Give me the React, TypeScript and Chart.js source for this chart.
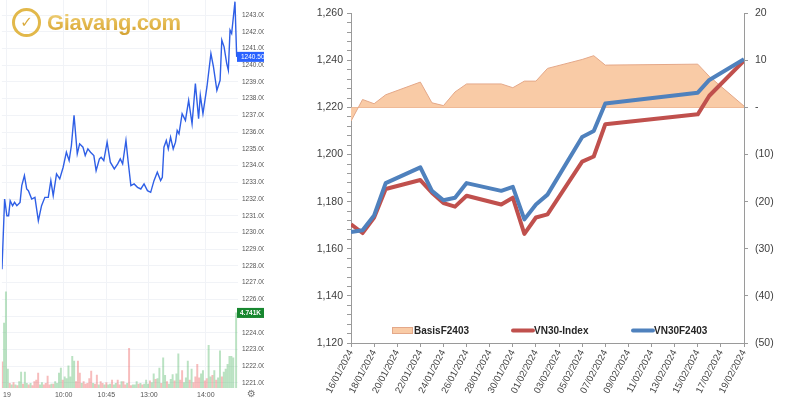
import React, { useEffect, useRef } from "react";
import { Chart, registerables } from "chart.js";

Chart.register(...registerables);

const FONT = "'Liberation Sans', Arial, sans-serif";

// ---------------- Right chart data (daily) ----------------
const tradeDates = [
  "16/01/2024", "17/01/2024", "18/01/2024", "19/01/2024", "22/01/2024",
  "23/01/2024", "24/01/2024", "25/01/2024", "26/01/2024", "29/01/2024",
  "30/01/2024", "31/01/2024", "01/02/2024", "02/02/2024", "05/02/2024",
  "06/02/2024", "07/02/2024", "15/02/2024", "16/02/2024", "19/02/2024",
];
const vn30Index = [
  1170.4, 1166.7, 1173.3, 1185.4, 1189.2, 1183.8, 1179.4, 1177.9, 1182.5, 1178.8,
  1181.7, 1166.3, 1173.3, 1174.6, 1197.0, 1199.2, 1212.9, 1217.1, 1225.0, 1239.9,
];
const vn30F2403 = [
  1167.1, 1167.9, 1174.2, 1187.9, 1194.6, 1184.6, 1180.6, 1181.7, 1187.9, 1184.6,
  1186.3, 1172.5, 1178.8, 1183.0, 1207.5, 1210.0, 1221.7, 1226.3, 1231.7, 1240.5,
];
const basisF2403 = [
  -2.9, 1.7, 0.8, 2.7, 5.4, 1.0, 0.4, 3.3, 5.0, 5.0,
  4.2, 5.6, 5.6, 8.3, 10.2, 11.0, 9.0, 9.2, 6.6, 0.3,
];
const seriesLabels = ["BasisF2403", "VN30-Index", "VN30F2403"];
const axisStartDate = "16/01/2024";
const axisEndDate = "19/02/2024";

// ---------------- Left chart data (intraday) ----------------
// minutes of trading time since 09:00 (lunch break removed)
const priceMinutes = [
  -5.2, -2.4, 0, 1.8, 3.5, 6, 8.1, 10.5, 13.9, 15.7, 18.5, 20.9, 22.7, 26.2, 29.6,
  33.2, 36.6, 40.1, 43.7, 46.4, 48.9, 52.4, 55.8, 59.4, 62.8, 65.7, 68.1, 70.9, 74.3,
  76.8, 80.3, 82.7, 85.5, 88.3, 91.8, 94.2, 97.7, 99.5, 102.3, 105.8, 109.2, 113.4,
  117, 119.7, 122.2, 125.7, 128.1, 130.9, 134.3, 137.9, 141.4, 144.8, 148.4, 151.8,
  155.3, 158.8, 162.3, 164.1, 165.8, 168.3, 170.4, 172.8, 175.6, 178, 179.8, 181.7,
  185, 188.5, 191.9, 195.5, 199, 202.4, 204.2, 207, 211.2, 215.4, 218.1, 221.7, 225.1,
  226.9, 229.3, 232.1, 233.8, 235.6, 237.3, 240.8, 242.6,
];
const priceValues = [
  1227.8, 1232.0, 1231.0, 1231.0, 1231.9, 1231.6, 1231.8, 1231.6, 1231.8, 1232.8,
  1233.4, 1232.6, 1232.5, 1232.0, 1232.1, 1230.7, 1231.6, 1232.1, 1232.1, 1233.1,
  1232.2, 1233.5, 1233.2, 1233.9, 1234.8, 1234.3, 1235.2, 1237.0, 1234.7, 1235.3,
  1235.1, 1234.6, 1235.0, 1234.8, 1234.6, 1233.7, 1234.4, 1234.5, 1234.3, 1235.4,
  1234.2, 1233.8, 1234.1, 1234.4, 1234.1, 1235.5, 1234.2, 1232.8, 1232.9, 1232.7,
  1232.6, 1232.9, 1232.5, 1232.4, 1233.1, 1233.6, 1233.1, 1233.3, 1235.1, 1235.5,
  1235.0, 1235.7, 1235.0, 1235.4, 1236.1, 1235.9, 1237.1, 1236.7, 1237.9, 1236.5,
  1238.9, 1236.8, 1238.2, 1237.1, 1238.7, 1240.7, 1239.9, 1238.5, 1239.1, 1241.5,
  1241.1, 1240.1, 1239.7, 1242.1, 1241.9, 1243.8, 1240.5,
];
const volMinutes = [
  -5, -3, -1, 1, 3, 5, 7, 9, 11, 13,
  15, 17, 19, 21, 23, 25, 27, 29, 31, 33,
  35, 37, 39, 41, 43, 45, 47, 49, 51, 53,
  55, 57, 59, 61, 63, 65, 67, 69, 71, 73,
  75, 77, 79, 81, 83, 85, 87, 89, 91, 93,
  95, 97, 99, 101, 103, 105, 107, 109, 111, 113,
  115, 117, 119, 121, 123, 125, 127, 129, 131, 133,
  135, 137, 139, 141, 143, 145, 147, 149, 151, 153,
  155, 157, 159, 161, 163, 165, 167, 169, 171, 173,
  175, 177, 179, 181, 183, 185, 187, 189, 191, 193,
  195, 197, 199, 201, 203, 205, 207, 209, 211, 213,
  215, 217, 219, 221, 223, 225, 227, 229, 231, 233,
  235, 237, 239, 242,
];
const volValues = [
  1650, 4100, 6070, 1200, 300, 200, 350, 200, 150, 400,
  1000, 250, 1000, 300, 200, 300, 150, 400, 500, 950,
  200, 350, 200, 300, 750, 200, 250, 250, 400, 300,
  950, 1260, 500, 700, 600, 1400, 700, 2000, 1700, 400,
  1700, 950, 300, 400, 250, 300, 600, 1070, 300, 250,
  820, 200, 400, 300, 200, 350, 200, 250, 500, 200,
  300, 500, 200, 400, 400, 200, 300, 2500, 150, 200,
  200, 400, 250, 300, 200, 250, 500, 250, 450, 350,
  900, 550, 600, 1250, 300, 1900, 800, 400, 250, 550,
  850, 450, 900, 2150, 500, 1100, 350, 650, 1700, 500,
  1200, 350, 700, 1500, 650, 900, 1100, 450, 600, 2700,
  700, 800, 1100, 500, 650, 2350, 700, 1000, 1200, 1500,
  2000, 2000, 1900, 4741,
];
const volDirs = [
  "rgggrgrgrg",
  "grggrgrrrr",
  "ggrrrrgrgg",
  "ggrggggggr",
  "rrgrrrrrgr",
  "rgrrgrggrg",
  "grrgrrgrrg",
  "ggrgrggg rg".replace(" ", ""),
  "grggrggrgg",
  "grggrrgggr",
  "grrrrggrrg",
  "grgrggrggg",
  "gggg",
].join("");
const timeTickMinutes = [0, 60, 105, 150, 210];
const timeTickLabels = ["19", "10:00", "10:45", "13:00", "14:00"];

// ---------------- helpers ----------------
const DAY = 86400000;
function parseDate(s: string): number {
  const [d, m, y] = s.split("/").map(Number);
  return Date.UTC(y, m - 1, d);
}
const startMs = parseDate(axisStartDate);
const dayOffset = (s: string) => Math.round((parseDate(s) - startMs) / DAY);
function labelForOffset(off: number): string {
  const dt = new Date(startMs + Math.round(off) * DAY);
  const dd = String(dt.getUTCDate()).padStart(2, "0");
  const mm = String(dt.getUTCMonth() + 1).padStart(2, "0");
  return `${dd}/${mm}/${dt.getUTCFullYear()}`;
}

const AREA_FILL = "#F9CBA6";
const AREA_LINE = "#E4A889";
const RED = "#C0504D";
const BLUE = "#4F81BD";
const AXIS = "#9A9A9A";

const insideLegend = {
  id: "insideLegend",
  afterDraw(chart: any) {
    const { ctx, chartArea } = chart;
    const y = chartArea.bottom - 13;
    ctx.save();
    chart.data.datasets.forEach((ds: any, i: number) => {
      const x = chartArea.left + 41 + i * 120;
      if (ds.fill) {
        ctx.fillStyle = ds.backgroundColor;
        ctx.fillRect(x, y - 3, 21, 7);
        ctx.strokeStyle = ds.borderColor;
        ctx.lineWidth = 1;
        ctx.strokeRect(x + 0.5, y - 2.5, 20, 6);
      } else {
        ctx.strokeStyle = ds.borderColor;
        ctx.lineWidth = 4;
        ctx.lineCap = "round";
        ctx.beginPath();
        ctx.moveTo(x + 1, y + 0.5);
        ctx.lineTo(x + 21, y + 0.5);
        ctx.stroke();
      }
      ctx.fillStyle = "#262626";
      ctx.font = `bold 10px ${FONT}`;
      ctx.textBaseline = "middle";
      ctx.textAlign = "left";
      ctx.fillText(ds.label, x + 22, y + 1);
    });
    ctx.restore();
  },
};

const priceTags = {
  id: "priceTags",
  afterDraw(chart: any) {
    const { ctx, chartArea, scales } = chart;
    const lastP = priceValues[priceValues.length - 1];
    const yP = scales.y.getPixelForValue(lastP);
    const lastV = volValues[volValues.length - 1];
    const yV = scales.yVol.getPixelForValue(lastV);
    ctx.save();
    ctx.font = `6.5px ${FONT}`;
    ctx.textBaseline = "middle";
    ctx.textAlign = "left";
    ctx.fillStyle = "#2962FF";
    ctx.fillRect(chartArea.right - 1, yP - 5, 30, 10);
    ctx.fillStyle = "#fff";
    ctx.fillText(lastP.toFixed(2), chartArea.right + 3, yP);
    ctx.fillStyle = "#17872f";
    ctx.fillRect(chartArea.right - 1, yV - 5, 30, 10);
    ctx.fillStyle = "#fff";
    ctx.font = `bold 6.5px ${FONT}`;
    ctx.fillText((lastV / 1000).toFixed(3) + "K", chartArea.right + 2, yV);
    ctx.restore();
  },
};

function leftConfig(): any {
  return {
    type: "line",
    data: {
      datasets: [
        {
          type: "line",
          label: "VN30F",
          data: priceMinutes.map((m, i) => ({ x: m, y: priceValues[i] })),
          borderColor: "#2f5fe6",
          borderWidth: 1.4,
          pointRadius: 0,
          tension: 0,
          yAxisID: "y",
          order: 1,
        },
        {
          type: "bar",
          label: "Volume",
          data: volMinutes.map((m, i) => ({ x: m, y: volValues[i] })),
          backgroundColor: volMinutes.map((_, i) =>
            volDirs[i] === "g" ? "rgba(90,185,110,0.42)" : "rgba(235,95,95,0.42)"
          ),
          barThickness: 1.3,
          yAxisID: "yVol",
          order: 2,
        },
      ],
    },
    options: {
      animation: false,
      responsive: false,
      devicePixelRatio: 1,
      layout: { padding: 0 },
      plugins: { legend: { display: false }, tooltip: { enabled: false } },
      scales: {
        x: {
          type: "linear",
          min: -5.3,
          max: 244,
          offset: false,
          border: { display: false },
          grid: { color: "#f1f3f7", drawTicks: false, offset: false },
          ticks: {
            autoSkip: false,
            maxRotation: 0,
            padding: 3,
            color: "#555",
            font: { family: FONT, size: 7 },
            callback: (v: number) => {
              const i = timeTickMinutes.indexOf(v);
              return i >= 0 ? timeTickLabels[i] : "";
            },
          },
          afterBuildTicks: (s: any) => {
            s.ticks = timeTickMinutes.map((v) => ({ value: v }));
          },
          afterFit: (s: any) => {
            s.height = 12;
          },
        },
        y: {
          type: "linear",
          position: "right",
          min: 1220.7,
          max: 1243.9,
          border: { display: false },
          grid: { color: "#f1f3f7", drawTicks: false },
          ticks: {
            stepSize: 1,
            includeBounds: false,
            autoSkip: false,
            padding: 4,
            color: "#555",
            font: { family: FONT, size: 6.5 },
            callback: (v: number) => v.toFixed(2),
          },
          afterFit: (s: any) => {
            s.width = 26;
            s.paddingTop = 0;
            s.paddingBottom = 0;
          },
        },
        yVol: {
          type: "linear",
          display: false,
          min: 0,
          max: 24500,
        },
      },
    },
    plugins: [priceTags],
  };
}

function rightConfig(): any {
  const xs = tradeDates.map(dayOffset);
  const lineCommon = {
    type: "line",
    pointRadius: 0,
    tension: 0,
    borderWidth: 4,
    borderJoinStyle: "round",
    borderCapStyle: "butt",
    fill: false,
  };
  return {
    type: "line",
    data: {
      datasets: [
        {
          type: "line",
          label: seriesLabels[0],
          data: xs.map((x, i) => ({ x, y: basisF2403[i] })),
          yAxisID: "y1",
          fill: "origin",
          backgroundColor: AREA_FILL,
          borderColor: AREA_LINE,
          borderWidth: 1,
          pointRadius: 0,
          tension: 0,
          order: 3,
        },
        {
          ...lineCommon,
          label: seriesLabels[1],
          data: xs.map((x, i) => ({ x, y: vn30Index[i] })),
          yAxisID: "y",
          borderColor: RED,
          backgroundColor: RED,
          order: 2,
        },
        {
          ...lineCommon,
          label: seriesLabels[2],
          data: xs.map((x, i) => ({ x, y: vn30F2403[i] })),
          yAxisID: "y",
          borderColor: BLUE,
          backgroundColor: BLUE,
          order: 1,
        },
      ],
    },
    options: {
      animation: false,
      responsive: false,
      devicePixelRatio: 1,
      layout: { padding: { top: 7, left: 0, right: 0, bottom: 0 } },
      plugins: { legend: { display: false }, tooltip: { enabled: false } },
      scales: {
        x: {
          type: "linear",
          min: 0,
          max: dayOffset(axisEndDate),
          border: { display: true, color: AXIS, width: 1 },
          grid: { drawOnChartArea: false, tickLength: 4, tickColor: AXIS },
          ticks: {
            stepSize: 2,
            autoSkip: false,
            minRotation: 62,
            maxRotation: 62,
            padding: 1,
            color: "#404040",
            font: { family: FONT, size: 9.5 },
            callback: (v: number) => labelForOffset(v),
          },
          afterFit: (s: any) => {
            s.height = 57;
          },
        },
        y: {
          type: "linear",
          position: "left",
          min: 1120,
          max: 1260,
          border: { display: true, color: AXIS, width: 1 },
          grid: { drawOnChartArea: false, tickLength: 4, tickColor: AXIS },
          ticks: {
            stepSize: 4,
            autoSkip: false,
            padding: 4,
            color: "#404040",
            font: { family: FONT, size: 10.5 },
            callback: (v: number) =>
              Math.round(v) % 20 === 0 ? Math.round(v).toLocaleString("en-US") : "",
          },
          afterFit: (s: any) => {
            s.width = 51;
          },
        },
        y1: {
          type: "linear",
          position: "right",
          min: -50,
          max: 20,
          border: { display: true, color: AXIS, width: 1 },
          grid: {
            drawOnChartArea: true,
            tickLength: 4,
            tickColor: AXIS,
            color: (c: any) => (c.tick && c.tick.value === 0 ? AREA_LINE : "rgba(0,0,0,0)"),
          },
          ticks: {
            stepSize: 10,
            autoSkip: false,
            padding: 7,
            color: "#404040",
            font: { family: FONT, size: 10.5 },
            callback: (v: number) => (v === 0 ? "-" : v < 0 ? `(${Math.abs(v)})` : String(v)),
          },
          afterFit: (s: any) => {
            s.width = 56;
          },
        },
      },
    },
    plugins: [insideLegend],
  };
}

export default function App() {
  const leftRef = useRef<HTMLCanvasElement>(null);
  const rightRef = useRef<HTMLCanvasElement>(null);

  useEffect(() => {
    const left = new Chart(leftRef.current as HTMLCanvasElement, leftConfig());
    const right = new Chart(rightRef.current as HTMLCanvasElement, rightConfig());
    return () => {
      left.destroy();
      right.destroy();
    };
  }, []);

  return (
    <div
      style={{
        position: "fixed",
        left: 0,
        top: 0,
        width: 800,
        height: 400,
        background: "#fff",
        overflow: "hidden",
      }}
    >
      <canvas
        ref={leftRef}
        width={264}
        height={400}
        style={{ position: "absolute", left: 0, top: 0 }}
      />
      <div
        style={{
          position: "absolute",
          left: 12,
          top: 8,
          width: 23,
          height: 23,
          borderRadius: "50%",
          border: "3px solid #e2b84a",
          color: "#d9a93a",
          fontFamily: "'DejaVu Sans', sans-serif",
          fontSize: 15,
          fontWeight: "bold",
          lineHeight: "23px",
          textAlign: "center",
          pointerEvents: "none",
        }}
      >
        ✓
      </div>
      <div
        style={{
          position: "absolute",
          left: 47,
          top: 9,
          fontFamily: FONT,
          fontWeight: "bold",
          fontSize: 22,
          letterSpacing: -0.4,
          lineHeight: "28px",
          color: "#e6bf57",
          background: "linear-gradient(180deg, #f3d98a 0%, #e2b64a 55%, #d19e2e 100%)",
          WebkitBackgroundClip: "text",
          backgroundClip: "text",
          WebkitTextFillColor: "transparent",
          pointerEvents: "none",
        }}
      >
        Giavang.com
      </div>
      <div
        style={{
          position: "absolute",
          left: 247,
          top: 388,
          fontFamily: "'DejaVu Sans', sans-serif",
          fontSize: 10,
          color: "#777",
          pointerEvents: "none",
        }}
      >
        ⚙
      </div>
      <canvas
        ref={rightRef}
        width={500}
        height={400}
        style={{ position: "absolute", left: 300, top: 0 }}
      />
    </div>
  );
}
